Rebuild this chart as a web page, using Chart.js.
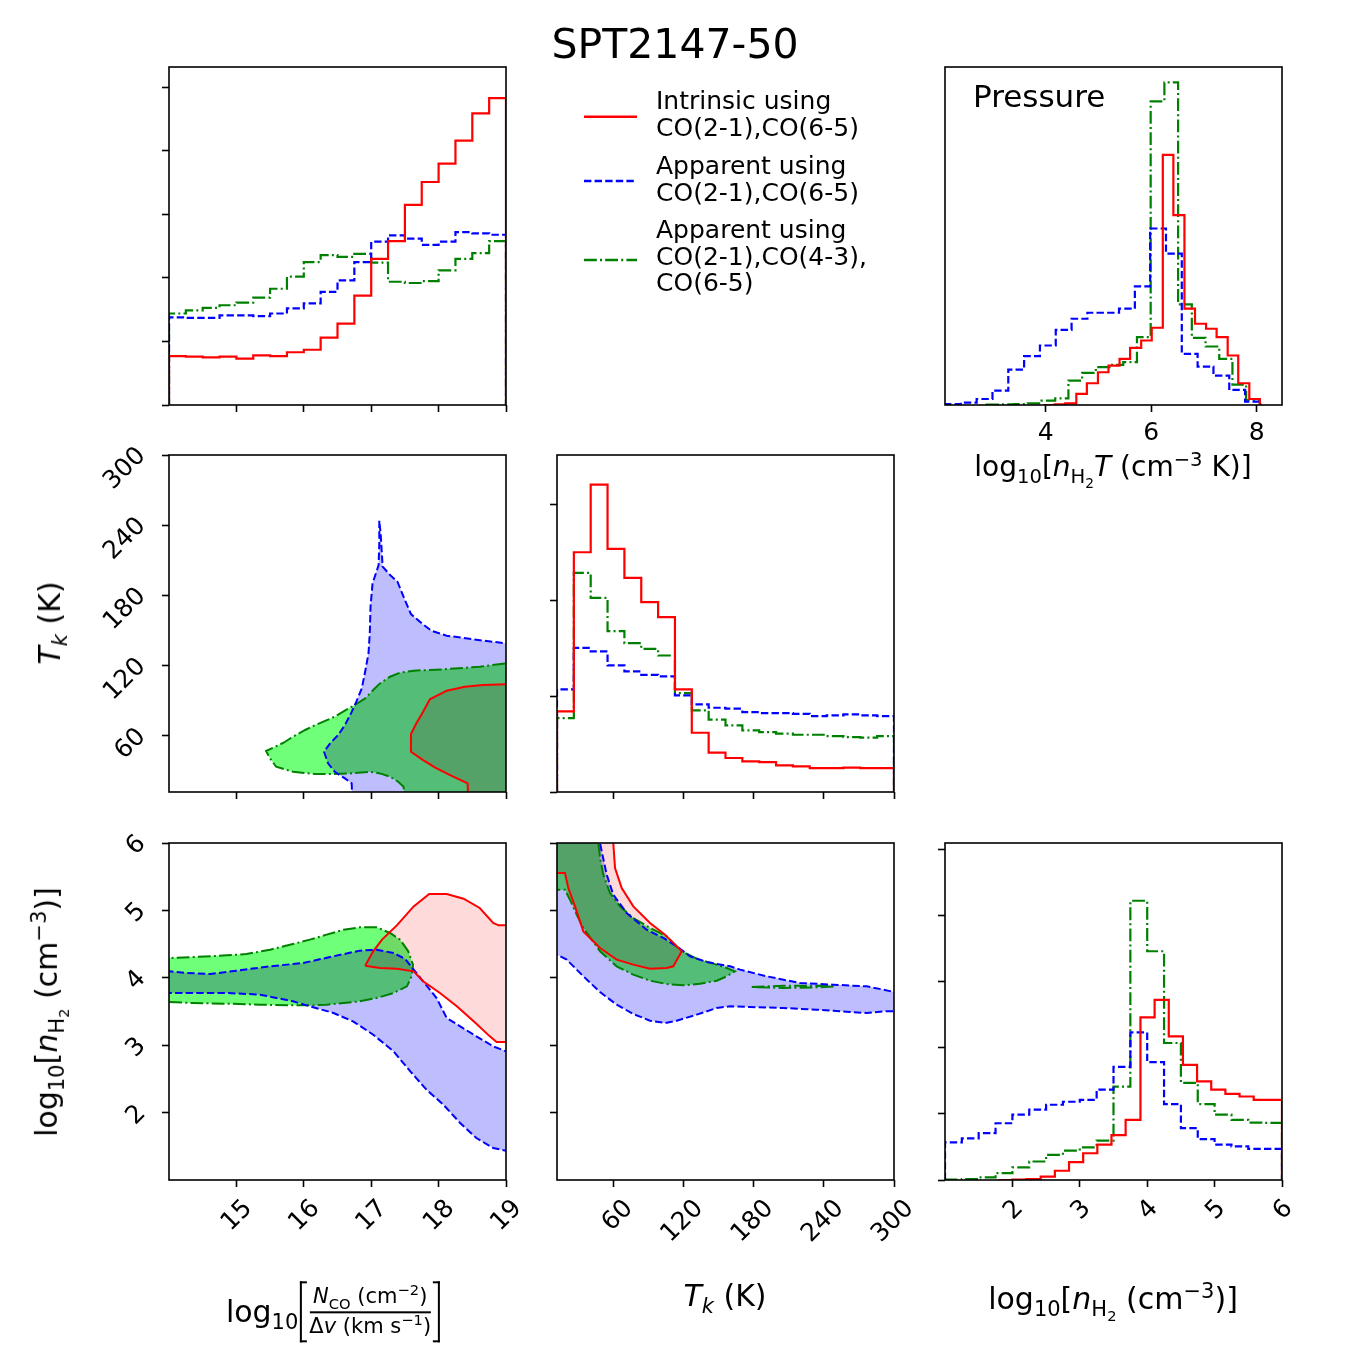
<!DOCTYPE html>
<html>
<head>
<meta charset="utf-8">
<script src="https://cdn.jsdelivr.net/npm/chart.js@4.4.1/dist/chart.umd.min.js"></script>
<style>
  body { margin: 0; background: #fff; }
  #page { position: relative; width: 1350px; height: 1350px; overflow: hidden;
          font-family: 'DejaVu Sans', sans-serif; color: #000; }
  #page canvas { position: absolute; left: 0; top: 0; }
  .txt { position: absolute; white-space: nowrap; transform: translate(-50%, -50%); line-height: 1; }
  .vert { transform: translate(-50%, -50%) rotate(-90deg); }
  sub, sup { font-size: 70%; line-height: 0; }
  .leg { position: absolute; left: 656px; font-size: 25px; line-height: 26.7px; white-space: nowrap; }
  .brk { position: relative; display: inline-flex; padding: 3px 9px; margin-left: 2px; }
  .brk::before, .brk::after { content: ''; position: absolute; top: 0; bottom: 0; width: 5px; border: 2px solid #000; }
  .brk::before { left: 0; border-right: none; }
  .brk::after { right: 0; border-left: none; }
  .frac { display: inline-flex; flex-direction: column; align-items: center; font-size: 21px; line-height: 1.2; }
  .frac .num { border-bottom: 2px solid #000; padding: 0 3px 2px; }
  .frac .den { padding-top: 1px; }
</style>
</head>
<body>
<div id="page">
  <canvas id="cNco" width="1350" height="1350"></canvas>
  <canvas id="cPres" width="1350" height="1350"></canvas>
  <canvas id="cTkN" width="1350" height="1350"></canvas>
  <canvas id="cTk" width="1350" height="1350"></canvas>
  <canvas id="cNhN" width="1350" height="1350"></canvas>
  <canvas id="cNhT" width="1350" height="1350"></canvas>
  <canvas id="cNh" width="1350" height="1350"></canvas>

  <div class="txt" style="left:675px;top:44px;font-size:41px">SPT2147-50</div>

  <svg style="position:absolute;left:580px;top:100px" width="60" height="170">
    <line x1="4" y1="16.7" x2="57" y2="16.7" stroke="rgb(255,0,0)" stroke-width="2.4"/>
    <line x1="4" y1="81" x2="57" y2="81" stroke="rgb(0,0,255)" stroke-width="2.4" stroke-dasharray="7.4 3.2"/>
    <line x1="4" y1="160" x2="57" y2="160" stroke="rgb(0,128,0)" stroke-width="2.4" stroke-dasharray="12.8 3.2 2 3.2"/>
  </svg>
  <div class="leg" style="top:88px">Intrinsic using<br>CO(2-1),CO(6-5)</div>
  <div class="leg" style="top:153px">Apparent using<br>CO(2-1),CO(6-5)</div>
  <div class="leg" style="top:217px">Apparent using<br>CO(2-1),CO(4-3),<br>CO(6-5)</div>

  <div style="position:absolute;left:973px;top:81px;font-size:31px;line-height:1">Pressure</div>
  <div class="txt" style="left:1113px;top:468px;font-size:28px">log<sub>10</sub>[<i>n</i><sub>H<sub>2</sub></sub><i>T</i> (cm<sup>−3</sup> K)]</div>

  <div class="txt vert" style="left:50px;top:623px;font-size:30px"><i>T<sub>k</sub></i> (K)</div>
  <div class="txt vert" style="left:48px;top:1012px;font-size:30px">log<sub>10</sub>[<i>n</i><sub>H<sub>2</sub></sub> (cm<sup>−3</sup>)]</div>

  <div class="txt" style="left:333px;top:1312px;font-size:30px;display:flex;align-items:center">
    <span>log<sub>10</sub></span>
    <span class="brk"><span class="frac">
      <span class="num"><i>N</i><sub>CO</sub> (cm<sup>−2</sup>)</span>
      <span class="den">Δ<i>v</i> (km s<sup>−1</sup>)</span>
    </span></span>
  </div>
  <div class="txt" style="left:725px;top:1296px;font-size:30px"><i>T<sub>k</sub></i> (K)</div>
  <div class="txt" style="left:1113px;top:1300px;font-size:30px">log<sub>10</sub>[<i>n</i><sub>H<sub>2</sub></sub> (cm<sup>−3</sup>)]</div>
</div>

<script>
// ---- tick values ----
const ncoTicks = [15, 16, 17, 18, 19];
const tkTicks = [60, 120, 180, 240, 300];
const nhTicks = [2, 3, 4, 5, 6];
const presTicks = [4, 6, 8];
const ncoHistTicks = [0, 0.1, 0.2, 0.3, 0.4, 0.5];
const tkHistTicks = [0, 1, 2, 3];
const nhHistTicks = [0, 0.2, 0.4, 0.6, 0.8, 1.0];

// ---- log10 N_CO histogram ----
const ncoEdges = [14, 14.25, 14.5, 14.75, 15, 15.25, 15.5, 15.75, 16, 16.25, 16.5, 16.75, 17, 17.25, 17.5, 17.75, 18, 18.25, 18.5, 18.75, 19];
const ncoRed = [0.077, 0.076, 0.075, 0.076, 0.073, 0.078, 0.077, 0.083, 0.087, 0.106, 0.128, 0.172, 0.230, 0.258, 0.315, 0.351, 0.380, 0.416, 0.459, 0.483];
const ncoBlue = [0.138, 0.137, 0.137, 0.141, 0.141, 0.140, 0.144, 0.152, 0.160, 0.178, 0.196, 0.225, 0.257, 0.267, 0.262, 0.252, 0.257, 0.272, 0.270, 0.268];
const ncoGreen = [0.144, 0.149, 0.153, 0.157, 0.161, 0.169, 0.183, 0.202, 0.225, 0.236, 0.233, 0.238, 0.224, 0.194, 0.192, 0.195, 0.212, 0.230, 0.239, 0.258];

// ---- pressure histogram (each run has its own bins) ----
const presRedEdges = [3.96, 4.17, 4.37, 4.58, 4.78, 4.99, 5.19, 5.40, 5.60, 5.81, 6.01, 6.22, 6.42, 6.63, 6.83, 7.04, 7.24, 7.45, 7.65, 7.86, 8.06];
const presRed = [0, 0.002, 0.005, 0.033, 0.065, 0.098, 0.118, 0.138, 0.171, 0.193, 0.231, 0.748, 0.568, 0.288, 0.243, 0.228, 0.203, 0.148, 0.065, 0.018];
const presBlueEdges = [2.09, 2.39, 2.69, 2.99, 3.29, 3.59, 3.89, 4.19, 4.49, 4.79, 5.09, 5.39, 5.69, 5.98, 6.28, 6.58, 6.88, 7.18, 7.48, 7.78, 8.08];
const presBlue = [0.003, 0.007, 0.018, 0.043, 0.106, 0.146, 0.178, 0.225, 0.258, 0.276, 0.276, 0.288, 0.355, 0.528, 0.453, 0.153, 0.115, 0.088, 0.045, 0.010];
const presGreenEdges = [2.88, 3.14, 3.40, 3.66, 3.92, 4.18, 4.43, 4.69, 4.95, 5.21, 5.47, 5.73, 5.99, 6.25, 6.51, 6.77, 7.03, 7.29, 7.54, 7.80, 8.06];
const presGreen = [0.001, 0.002, 0.003, 0.005, 0.013, 0.020, 0.073, 0.096, 0.113, 0.120, 0.128, 0.203, 0.908, 0.965, 0.301, 0.201, 0.175, 0.138, 0.061, 0.015];

// ---- T_k histogram ----
const tkEdges = [12, 26.4, 40.8, 55.2, 69.6, 84, 98.4, 112.8, 127.2, 141.6, 156, 170.4, 184.8, 199.2, 213.6, 228, 242.4, 256.8, 271.2, 285.6, 300];
const tkRed = [0.842, 2.504, 3.210, 2.539, 2.236, 1.983, 1.826, 1.071, 0.619, 0.411, 0.355, 0.320, 0.313, 0.278, 0.268, 0.250, 0.250, 0.254, 0.250, 0.250];
const tkBlue = [1.071, 1.506, 1.468, 1.322, 1.259, 1.224, 1.207, 1.009, 0.915, 0.880, 0.870, 0.835, 0.824, 0.824, 0.817, 0.793, 0.800, 0.810, 0.800, 0.793];
const tkGreen = [0.772, 2.289, 2.028, 1.680, 1.555, 1.496, 1.426, 1.033, 0.852, 0.755, 0.696, 0.643, 0.626, 0.609, 0.598, 0.598, 0.584, 0.574, 0.567, 0.584];

// ---- log10 n_H2 histogram ----
const nhEdges = [1, 1.25, 1.5, 1.75, 2, 2.25, 2.5, 2.75, 3, 3.25, 3.5, 3.75, 4, 4.25, 4.5, 4.75, 5, 5.25, 5.5, 5.75, 6];
const nhRedEdges = [1.79, 2.00, 2.21, 2.42, 2.63, 2.84, 3.05, 3.26, 3.47, 3.68, 3.90, 4.11, 4.32, 4.53, 4.74, 4.95, 5.16, 5.37, 5.58, 5.79, 6.00];
const nhRed = [0, 0.001, 0.003, 0.010, 0.028, 0.054, 0.081, 0.107, 0.136, 0.182, 0.493, 0.546, 0.435, 0.349, 0.299, 0.274, 0.261, 0.253, 0.243, 0.243];
const nhBlue = [0.114, 0.126, 0.142, 0.172, 0.198, 0.213, 0.228, 0.237, 0.243, 0.274, 0.343, 0.447, 0.357, 0.230, 0.157, 0.124, 0.107, 0.102, 0.094, 0.094];
const nhGreen = [0.001, 0.003, 0.008, 0.021, 0.038, 0.056, 0.076, 0.089, 0.099, 0.119, 0.283, 0.846, 0.693, 0.415, 0.294, 0.230, 0.198, 0.182, 0.174, 0.173];

// ---- 68% contours: T_k vs log10 N_CO ----
const tkNcoBlue = [[16.72, 5], [16.71, 19.4], [16.61, 23.6], [16.46, 29.3], [16.36, 36.5], [16.30, 46.4], [16.39, 53.6], [16.51, 60.7], [16.61, 69.2], [16.70, 79.2], [16.78, 89.2], [16.86, 100.6], [16.91, 114.8], [16.96, 130.5], [16.98, 149.0], [16.99, 170.4], [17.02, 190.3], [17.07, 198.9], [17.11, 206.0], [17.12, 224.5], [17.12, 243.9], [17.14, 233.0], [17.17, 204.6], [17.28, 197.4], [17.39, 191.7], [17.50, 176.1], [17.59, 164.1], [17.75, 156.1], [17.90, 149.6], [18.12, 145.6], [18.52, 142.4], [19.0, 139.0], [19.3, 138.5], [19.3, 5], [16.72, 5]];
const tkNcoGreen = [[19.3, 122.0], [19.0, 122.0], [18.61, 119.1], [18.07, 116.8], [17.63, 115.7], [17.43, 114.0], [17.28, 110.5], [17.13, 104.8], [17.03, 99.1], [16.91, 92.0], [16.78, 87.2], [16.64, 82.6], [16.46, 76.4], [16.29, 72.1], [16.17, 69.2], [16.02, 65.0], [15.84, 59.3], [15.70, 54.1], [15.44, 47.0], [15.50, 40.7], [15.59, 33.6], [15.84, 29.3], [16.17, 27.4], [16.44, 27.4], [16.69, 27.9], [16.98, 29.3], [17.13, 27.9], [17.28, 25.1], [17.40, 20.8], [17.48, 16.5], [17.50, 5], [19.3, 5], [19.3, 122.0]];
const tkNcoRed = [[19.3, 104.0], [19.0, 104.0], [18.66, 103.4], [18.39, 102.0], [18.12, 98.6], [17.87, 91.2], [17.77, 80.6], [17.67, 70.7], [17.59, 61.5], [17.59, 46.4], [17.77, 39.3], [17.95, 32.8], [18.17, 26.5], [18.43, 19.4], [18.44, 5], [19.3, 5], [19.3, 104.0]];

// ---- 68% contours: log10 n_H2 vs log10 N_CO ----
const nhNcoBlue = [[13.8, 4.096], [14.0, 4.096], [14.26, 4.071], [14.61, 4.056], [15.00, 4.106], [15.50, 4.170], [15.99, 4.220], [16.44, 4.319], [16.83, 4.403], [17.08, 4.417], [17.33, 4.368], [17.50, 4.284], [17.63, 4.121], [17.77, 3.948], [17.97, 3.700], [18.12, 3.404], [18.32, 3.280], [18.56, 3.132], [18.81, 2.983], [19.0, 2.909], [19.3, 2.9], [19.3, 1.43], [19.0, 1.435], [18.81, 1.475], [18.56, 1.623], [18.32, 1.846], [18.07, 2.118], [17.82, 2.340], [17.58, 2.612], [17.33, 2.909], [17.03, 3.156], [16.73, 3.354], [16.44, 3.478], [16.09, 3.577], [15.84, 3.651], [15.35, 3.750], [14.86, 3.775], [14.36, 3.775], [14.0, 3.775], [13.8, 3.775], [13.8, 4.096]];
const nhNcoGreen = [[13.8, 4.294], [14.0, 4.294], [14.36, 4.309], [14.86, 4.333], [15.15, 4.353], [15.50, 4.417], [15.84, 4.501], [16.09, 4.566], [16.34, 4.640], [16.59, 4.714], [16.83, 4.749], [17.08, 4.749], [17.28, 4.665], [17.43, 4.566], [17.55, 4.393], [17.62, 4.195], [17.60, 4.022], [17.53, 3.873], [17.33, 3.774], [17.08, 3.700], [16.83, 3.651], [16.59, 3.626], [16.34, 3.601], [16.09, 3.591], [15.84, 3.591], [15.35, 3.601], [14.86, 3.616], [14.36, 3.626], [14.0, 3.641], [13.8, 3.641], [13.8, 4.294]];
const nhNcoRed = [[16.91, 4.180], [17.03, 4.393], [17.16, 4.566], [17.38, 4.778], [17.63, 5.060], [17.86, 5.243], [18.12, 5.243], [18.37, 5.174], [18.61, 5.036], [18.81, 4.813], [18.89, 4.778], [19.0, 4.778], [19.3, 4.778], [19.3, 3.047], [19.0, 3.047], [18.86, 3.047], [18.76, 3.131], [18.52, 3.354], [18.27, 3.577], [18.02, 3.774], [17.77, 3.948], [17.63, 4.096], [17.38, 4.135], [17.13, 4.145], [16.91, 4.180]];

// ---- 68% contours: log10 n_H2 vs T_k ----
const nhTkBlue = [[48.8, 6.3], [48.8, 6.0], [50.2, 5.876], [54.5, 5.530], [60.1, 5.233], [71.5, 4.961], [88.6, 4.714], [102.9, 4.591], [114.3, 4.467], [125.7, 4.318], [139.9, 4.234], [159.9, 4.170], [168.4, 4.121], [191.2, 4.022], [219.7, 3.923], [248.2, 3.898], [276.7, 3.873], [290.9, 3.824], [300, 3.789], [310, 3.77], [310, 3.502], [300, 3.502], [290.9, 3.502], [276.7, 3.478], [262.4, 3.493], [248.2, 3.512], [233.9, 3.527], [205.4, 3.552], [176.9, 3.567], [159.9, 3.577], [148.5, 3.552], [131.4, 3.453], [114.3, 3.364], [104.3, 3.329], [91.5, 3.364], [77.2, 3.463], [63.0, 3.601], [48.8, 3.789], [34.5, 4.022], [20.3, 4.269], [12.0, 4.343], [5, 4.36], [5, 6.3], [48.8, 6.3]];
const nhTkGreen = [[47.3, 6.3], [47.3, 6.0], [48.8, 5.777], [51.6, 5.530], [57.3, 5.258], [65.8, 5.060], [77.2, 4.887], [91.5, 4.739], [105.7, 4.615], [118.6, 4.393], [131.4, 4.284], [145.6, 4.210], [157.0, 4.145], [164.1, 4.096], [157.0, 4.022], [148.5, 3.957], [134.2, 3.913], [120.0, 3.888], [105.7, 3.908], [91.5, 3.957], [77.2, 4.047], [63.0, 4.170], [48.8, 4.393], [34.5, 4.739], [28.8, 4.937], [23.1, 5.159], [18.8, 5.308], [12.0, 5.308], [5, 5.308], [5, 6.3], [47.3, 6.3]];
const nhTkGreenIsland = [[178.4, 3.863], [205.4, 3.883], [233.9, 3.883], [249.6, 3.873], [233.9, 3.858], [205.4, 3.849], [178.4, 3.863]];
const nhTkRed = [[60.1, 6.3], [60.1, 6.0], [61.6, 5.629], [67.3, 5.332], [77.2, 5.060], [91.5, 4.813], [104.3, 4.640], [112.9, 4.492], [118.6, 4.393], [111.4, 4.170], [105.7, 4.145], [91.5, 4.135], [77.2, 4.195], [63.0, 4.269], [48.8, 4.442], [34.5, 4.689], [27.4, 5.06], [21.7, 5.33], [18.8, 5.555], [12.0, 5.555], [5, 5.555], [5, 6.3], [60.1, 6.3]];

// ---- styles ----
const RED = 'rgb(255,0,0)', BLUE = 'rgb(0,0,255)', GREEN = 'rgb(0,128,0)';
const DASH = [7.4, 3.2], DASHDOT = [12.8, 3.2, 2, 3.2];
const RED_FILL = 'rgb(255,218,218)', BLUE_FILL = 'rgb(190,190,255)', GREEN_FILL = 'rgb(112,255,120)';
const AX = 100; // fixed axis band so the plot boxes land where they should

Chart.defaults.font.family = "'DejaVu Sans'";
Chart.defaults.font.size = 25;
Chart.defaults.color = '#000';

// contour fills are multiplied together so overlaps darken like the original
const blendFills = {
  id: 'blendFills',
  beforeDraw(chart) { chart.ctx.globalCompositeOperation = 'multiply'; },
  beforeDatasetsDraw(chart) { chart.ctx.globalCompositeOperation = 'source-over'; }
};
const frame = {
  id: 'frame',
  afterDraw(chart) {
    const { ctx, chartArea: a } = chart;
    ctx.save();
    ctx.strokeStyle = '#000';
    ctx.lineWidth = 1.6;
    ctx.strokeRect(a.left, a.top, a.right - a.left, a.bottom - a.top);
    ctx.restore();
  }
};

function hist(edges, heights, color, dash) {
  const pts = [{ x: edges[0], y: 0 }];
  heights.forEach((h, i) => pts.push({ x: edges[i], y: h }));
  pts.push({ x: edges[edges.length - 1], y: 0 });
  return { data: pts, borderColor: color, borderDash: dash, borderWidth: 2.2, stepped: 'before', fill: false, pointRadius: 0 };
}

function contour(points, color, dash, fillColor) {
  return {
    data: points.map(([x, y]) => ({ x, y })),
    borderColor: color, borderDash: dash, borderWidth: 2,
    backgroundColor: fillColor, fill: fillColor ? 'shape' : false, pointRadius: 0
  };
}

function axis(a, which) {
  return {
    type: 'linear', min: a.min, max: a.max,
    afterBuildTicks: s => { s.ticks = a.ticks.map(v => ({ value: v })); },
    afterFit: s => { if (which === 'x') s.height = AX; else s.width = AX; },
    border: { display: false },
    grid: { display: a.ticks.length > 0, drawOnChartArea: false, drawTicks: true, tickLength: 7, tickWidth: 1.6, tickColor: '#000' },
    ticks: {
      display: !!a.labels, autoSkip: false, padding: a.pad || 4,
      minRotation: a.rot || 0, maxRotation: a.rot || 0, labelOffset: a.off || 0,
      callback: v => String(v)
    }
  };
}

function panel(id, box, xa, ya, datasets) {
  new Chart(document.getElementById(id), {
    type: 'line',
    data: { datasets },
    options: {
      responsive: false, animation: false, events: [],
      layout: { padding: { left: box[0] - AX, top: box[1], right: 1350 - box[2], bottom: 1350 - box[3] - AX } },
      plugins: { legend: { display: false }, tooltip: { enabled: false }, filler: { drawTime: 'beforeDatasetsDraw' } },
      elements: { line: { tension: 0 }, point: { radius: 0 } },
      scales: { x: axis(xa, 'x'), y: axis(ya, 'y') }
    },
    plugins: [blendFills, frame]
  });
}

const COL = [[169, 506], [557, 894], [945, 1282]];
const ROW = [[67, 405], [455, 792], [843, 1180]];
const box = (c, r) => [COL[c][0], ROW[r][0], COL[c][1], ROW[r][1]];

const ncoAx = { min: 14, max: 19, ticks: ncoTicks };
const tkAx = { min: 12, max: 300, ticks: tkTicks };
const nhAx = { min: 1, max: 6, ticks: nhTicks };

panel('cNco', box(0, 0), ncoAx, { min: 0, max: 0.532, ticks: ncoHistTicks }, [
  hist(ncoEdges, ncoRed, RED, []),
  hist(ncoEdges, ncoBlue, BLUE, DASH),
  hist(ncoEdges, ncoGreen, GREEN, DASHDOT)
]);

panel('cPres', box(2, 0), { min: 2.09, max: 8.48, ticks: presTicks, labels: true, pad: 6 }, { min: 0, max: 1.011, ticks: [] }, [
  hist(presRedEdges, presRed, RED, []),
  hist(presBlueEdges, presBlue, BLUE, DASH),
  hist(presGreenEdges, presGreen, GREEN, DASHDOT)
]);

panel('cTkN', box(0, 1), ncoAx, Object.assign({ labels: true, rot: 45, pad: 20, off: -3 }, tkAx), [
  contour(tkNcoRed, RED, [], RED_FILL),
  contour(tkNcoBlue, BLUE, DASH, BLUE_FILL),
  contour(tkNcoGreen, GREEN, DASHDOT, GREEN_FILL)
]);

panel('cTk', box(1, 1), tkAx, { min: 0, max: 3.52, ticks: tkHistTicks }, [
  hist(tkEdges, tkRed, RED, []),
  hist(tkEdges, tkBlue, BLUE, DASH),
  hist(tkEdges, tkGreen, GREEN, DASHDOT)
]);

panel('cNhN', box(0, 2), Object.assign({ labels: true, rot: 45, pad: 7, off: 12 }, ncoAx), Object.assign({ labels: true, rot: 45, pad: 20, off: -3 }, nhAx), [
  contour(nhNcoRed, RED, [], RED_FILL),
  contour(nhNcoBlue, BLUE, DASH, BLUE_FILL),
  contour(nhNcoGreen, GREEN, DASHDOT, GREEN_FILL)
]);

panel('cNhT', box(1, 2), Object.assign({ labels: true, rot: 45, pad: 7, off: 16 }, tkAx), nhAx, [
  contour(nhTkRed, RED, [], RED_FILL),
  contour(nhTkBlue, BLUE, DASH, BLUE_FILL),
  contour(nhTkGreen, GREEN, DASHDOT, GREEN_FILL),
  contour(nhTkGreenIsland, GREEN, DASHDOT, null)
]);

panel('cNh', box(2, 2), Object.assign({ labels: true, rot: 45, pad: 7, off: 7 }, nhAx), { min: 0, max: 1.021, ticks: nhHistTicks }, [
  hist(nhRedEdges, nhRed, RED, []),
  hist(nhEdges, nhBlue, BLUE, DASH),
  hist(nhEdges, nhGreen, GREEN, DASHDOT)
]);
</script>
</body>
</html>
